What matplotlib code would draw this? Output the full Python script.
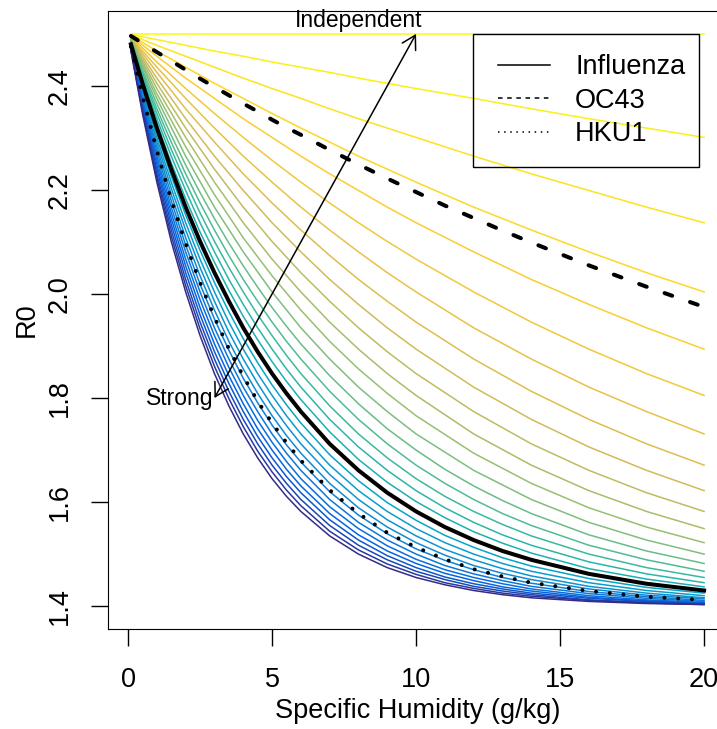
import numpy as np
import matplotlib
matplotlib.use("Agg")
import matplotlib.pyplot as plt
import matplotlib.patches as mpatches
from matplotlib.colors import LinearSegmentedColormap
from matplotlib.lines import Line2D

# ~~~~~~~~~~~~~~~~~~~~~~~~~~~~~~ Data ~~~~~~~~~~~~~~~~~~~~~~~~~~~~~~

humidity_coarse = [0.1, 1, 2, 3, 4, 5, 6, 7, 8, 9, 10, 12, 14, 16, 18, 20]
humidity_fine = [0.1, 0.5, 1, 1.5, 2, 2.5, 3, 3.5, 4, 4.5, 5, 5.5, 6, 7, 8, 9, 10, 11, 12, 13, 14, 16, 18, 20]

# weak humidity dependence (yellow -> orange -> olive curves), on humidity_coarse
r0_weak = [
    [2.500, 2.500, 2.500, 2.500, 2.500, 2.500, 2.500, 2.500, 2.500, 2.500, 2.500, 2.500, 2.500, 2.500, 2.500, 2.500],
    [2.499, 2.489, 2.478, 2.467, 2.457, 2.446, 2.436, 2.426, 2.415, 2.405, 2.395, 2.376, 2.356, 2.337, 2.319, 2.301],
    [2.498, 2.478, 2.457, 2.436, 2.415, 2.395, 2.376, 2.356, 2.337, 2.319, 2.301, 2.265, 2.231, 2.199, 2.167, 2.137],
    [2.497, 2.467, 2.436, 2.405, 2.376, 2.347, 2.319, 2.292, 2.265, 2.240, 2.215, 2.167, 2.123, 2.081, 2.041, 2.004],
    [2.496, 2.457, 2.415, 2.376, 2.337, 2.301, 2.265, 2.231, 2.199, 2.167, 2.137, 2.081, 2.028, 1.980, 1.935, 1.894],
    [2.495, 2.446, 2.395, 2.347, 2.301, 2.257, 2.215, 2.175, 2.137, 2.101, 2.067, 2.004, 1.946, 1.894, 1.847, 1.805],
    [2.493, 2.436, 2.376, 2.319, 2.265, 2.215, 2.167, 2.123, 2.081, 2.041, 2.004, 1.935, 1.875, 1.821, 1.774, 1.731],
    [2.492, 2.426, 2.356, 2.292, 2.231, 2.175, 2.123, 2.074, 2.028, 1.986, 1.946, 1.875, 1.813, 1.759, 1.712, 1.671],
    [2.491, 2.415, 2.337, 2.265, 2.199, 2.137, 2.081, 2.028, 1.980, 1.935, 1.894, 1.821, 1.759, 1.706, 1.661, 1.622],
    [2.490, 2.405, 2.319, 2.240, 2.167, 2.101, 2.041, 1.986, 1.935, 1.889, 1.847, 1.774, 1.712, 1.661, 1.618, 1.582],
    [2.489, 2.395, 2.301, 2.215, 2.137, 2.067, 2.004, 1.946, 1.894, 1.847, 1.805, 1.731, 1.671, 1.622, 1.582, 1.549],
    [2.488, 2.385, 2.283, 2.191, 2.108, 2.035, 1.969, 1.909, 1.856, 1.809, 1.766, 1.694, 1.636, 1.589, 1.552, 1.522],
    [2.487, 2.376, 2.265, 2.167, 2.081, 2.004, 1.935, 1.875, 1.821, 1.774, 1.731, 1.661, 1.605, 1.561, 1.527, 1.500],
]

# strong humidity dependence (green -> cyan -> blue -> indigo curves), on humidity_fine
r0_strong = [
    [2.486, 2.431, 2.366, 2.305, 2.248, 2.195, 2.145, 2.098, 2.054, 2.013, 1.974, 1.938, 1.904, 1.843, 1.789, 1.741, 1.700, 1.663, 1.631, 1.603, 1.578, 1.537, 1.506, 1.482],
    [2.485, 2.426, 2.356, 2.292, 2.231, 2.175, 2.123, 2.074, 2.028, 1.986, 1.946, 1.909, 1.875, 1.813, 1.759, 1.712, 1.671, 1.636, 1.605, 1.578, 1.555, 1.517, 1.489, 1.467],
    [2.484, 2.421, 2.347, 2.278, 2.215, 2.156, 2.101, 2.051, 2.004, 1.960, 1.920, 1.882, 1.847, 1.785, 1.731, 1.685, 1.645, 1.611, 1.582, 1.557, 1.535, 1.500, 1.474, 1.455],
    [2.483, 2.415, 2.337, 2.265, 2.199, 2.137, 2.081, 2.028, 1.980, 1.935, 1.894, 1.856, 1.821, 1.759, 1.706, 1.661, 1.622, 1.589, 1.561, 1.537, 1.517, 1.485, 1.462, 1.445],
    [2.481, 2.410, 2.328, 2.252, 2.183, 2.119, 2.061, 2.007, 1.957, 1.912, 1.870, 1.832, 1.797, 1.735, 1.682, 1.638, 1.601, 1.570, 1.543, 1.521, 1.502, 1.472, 1.452, 1.437],
    [2.480, 2.405, 2.319, 2.240, 2.167, 2.101, 2.041, 1.986, 1.935, 1.889, 1.847, 1.809, 1.774, 1.712, 1.661, 1.618, 1.582, 1.552, 1.527, 1.506, 1.489, 1.462, 1.443, 1.430],
    [2.479, 2.400, 2.310, 2.227, 2.152, 2.084, 2.022, 1.966, 1.914, 1.868, 1.825, 1.787, 1.752, 1.691, 1.641, 1.599, 1.565, 1.536, 1.513, 1.493, 1.477, 1.453, 1.436, 1.425],
    [2.478, 2.395, 2.301, 2.215, 2.137, 2.067, 2.004, 1.946, 1.894, 1.847, 1.805, 1.766, 1.731, 1.671, 1.622, 1.582, 1.549, 1.522, 1.500, 1.482, 1.467, 1.445, 1.430, 1.420],
    [2.477, 2.390, 2.292, 2.203, 2.123, 2.051, 1.986, 1.927, 1.875, 1.828, 1.785, 1.747, 1.712, 1.653, 1.605, 1.566, 1.535, 1.509, 1.489, 1.472, 1.458, 1.438, 1.425, 1.416],
    [2.476, 2.385, 2.283, 2.191, 2.108, 2.035, 1.969, 1.909, 1.856, 1.809, 1.766, 1.728, 1.694, 1.636, 1.589, 1.552, 1.522, 1.498, 1.478, 1.463, 1.451, 1.433, 1.421, 1.414],
    [2.475, 2.381, 2.274, 2.179, 2.094, 2.019, 1.952, 1.892, 1.838, 1.791, 1.748, 1.710, 1.677, 1.620, 1.575, 1.539, 1.510, 1.488, 1.470, 1.455, 1.444, 1.428, 1.418, 1.411],
    [2.474, 2.376, 2.265, 2.167, 2.081, 2.004, 1.935, 1.875, 1.821, 1.774, 1.731, 1.694, 1.661, 1.605, 1.561, 1.527, 1.500, 1.478, 1.462, 1.449, 1.438, 1.424, 1.415, 1.409],
    [2.473, 2.371, 2.257, 2.156, 2.067, 1.989, 1.920, 1.859, 1.805, 1.757, 1.715, 1.678, 1.645, 1.591, 1.549, 1.516, 1.490, 1.470, 1.455, 1.443, 1.433, 1.420, 1.412, 1.407],
    [2.472, 2.366, 2.248, 2.145, 2.054, 1.974, 1.904, 1.843, 1.789, 1.741, 1.700, 1.663, 1.631, 1.578, 1.537, 1.506, 1.482, 1.463, 1.449, 1.437, 1.429, 1.417, 1.410, 1.406],
    [2.471, 2.361, 2.240, 2.134, 2.041, 1.960, 1.889, 1.828, 1.774, 1.726, 1.685, 1.649, 1.618, 1.566, 1.527, 1.497, 1.474, 1.456, 1.443, 1.433, 1.425, 1.415, 1.409, 1.405],
    [2.470, 2.356, 2.231, 2.123, 2.028, 1.946, 1.875, 1.813, 1.759, 1.712, 1.671, 1.636, 1.605, 1.555, 1.517, 1.489, 1.467, 1.451, 1.438, 1.429, 1.422, 1.412, 1.407, 1.404],
    [2.469, 2.352, 2.223, 2.112, 2.016, 1.933, 1.861, 1.799, 1.745, 1.698, 1.658, 1.623, 1.593, 1.544, 1.508, 1.481, 1.461, 1.445, 1.434, 1.425, 1.419, 1.411, 1.406, 1.403],
    [2.467, 2.347, 2.215, 2.101, 2.004, 1.920, 1.847, 1.785, 1.731, 1.685, 1.645, 1.611, 1.582, 1.535, 1.500, 1.474, 1.455, 1.441, 1.430, 1.422, 1.416, 1.409, 1.405, 1.403],
]

# the three viruses, on humidity_fine
influenza = [2.480, 2.405, 2.319, 2.240, 2.167, 2.101, 2.041, 1.986, 1.935, 1.889, 1.847, 1.809, 1.774, 1.712, 1.661, 1.618, 1.582, 1.552, 1.527, 1.506, 1.489, 1.462, 1.443, 1.430]
oc43 = [2.496, 2.482, 2.465, 2.448, 2.431, 2.414, 2.398, 2.382, 2.366, 2.351, 2.335, 2.320, 2.306, 2.277, 2.249, 2.222, 2.196, 2.170, 2.146, 2.122, 2.099, 2.055, 2.014, 1.975]
hku1 = [2.475, 2.381, 2.276, 2.181, 2.097, 2.022, 1.955, 1.895, 1.842, 1.794, 1.752, 1.714, 1.680, 1.623, 1.578, 1.541, 1.513, 1.490, 1.471, 1.457, 1.445, 1.429, 1.418, 1.412]

legend_labels = ["Influenza", "OC43", "HKU1"]

# ~~~~~~~~~~~~~~~~~~~~~~~~~~~~~~ Plot ~~~~~~~~~~~~~~~~~~~~~~~~~~~~~~

plt.rcParams["font.family"] = ["Liberation Sans", "DejaVu Sans"]
plt.rcParams["font.size"] = 19.5

fig = plt.figure(figsize=(7.17, 7.29), dpi=100)
# the plot box runs past the right edge, as in the original
ax = fig.add_axes([108 / 717, 100 / 729, 619 / 717, 618 / 729])

parula = LinearSegmentedColormap.from_list("parula", ["#352A87", "#0363E1", "#1485D4", "#06A7C6", "#38B99E",
                                                      "#92BF73", "#D9BA56", "#FCCE2E", "#F9FB0E"])
n_curves = len(r0_weak) + len(r0_strong)
colors = parula(np.linspace(1, 0, n_curves))

for i, row in enumerate(r0_weak):
    ax.plot(humidity_coarse, row, color=colors[i], lw=1.1)
for j, row in enumerate(r0_strong):
    ax.plot(humidity_fine, row, color=colors[len(r0_weak) + j], lw=1.1)

ax.plot(humidity_fine, influenza, color="black", lw=2.9)
ax.plot(humidity_fine, oc43, color="black", lw=2.9, dashes=(2.0, 4.7), dash_capstyle="round")
ax.plot(humidity_fine, hku1, color="black", lw=2.9, dashes=(0.01, 3.4), dash_capstyle="round")

ax.set_xlim(-0.696, 20.796)
ax.set_ylim(1.356, 2.544)
ax.set_xticks([0, 5, 10, 15, 20])
ax.set_yticks([1.4, 1.6, 1.8, 2.0, 2.2, 2.4])
ax.set_yticklabels(["1.4", "1.6", "1.8", "2.0", "2.2", "2.4"], rotation=90, va="center")
ax.tick_params(direction="out", length=12.2, width=1, pad=15)
ax.tick_params(axis="y", pad=13)
ax.set_xlabel("Specific Humidity (g/kg)", labelpad=4)
ax.set_ylabel("R0", labelpad=5.5)

# Strong <-> Independent arrow
ax.annotate("", xy=(10, 2.5), xytext=(3, 1.8),
            arrowprops=dict(arrowstyle="<->, head_length=0.95, head_width=0.55", color="black",
                            lw=1.1, shrinkA=0, shrinkB=0, mutation_scale=10))
ax.text(1.79, 1.80, "Strong", fontsize=16.5, ha="center", va="center")
ax.text(8.0, 2.525, "Independent", fontsize=16.5, ha="center", va="center")

handles = [Line2D([], [], color="black", lw=1.1),
           Line2D([], [], color="black", lw=1.1, dashes=(3, 3)),
           Line2D([], [], color="black", lw=1.1, dashes=(1, 3))]
ax.legend(handles, legend_labels, loc="upper left",
          bbox_to_anchor=(498 / 717, 1 - 54 / 729), bbox_transform=fig.transFigure,
          borderaxespad=0, borderpad=0, handlelength=1.93, handletextpad=0.92,
          labelspacing=0.28, frameon=False)
fig.add_artist(mpatches.Rectangle((473 / 717, 1 - 167 / 729), 226 / 717, 133 / 729,
                                  transform=fig.transFigure, fill=False, edgecolor="black", lw=1.0))

fig.savefig("out.png", dpi=100)
